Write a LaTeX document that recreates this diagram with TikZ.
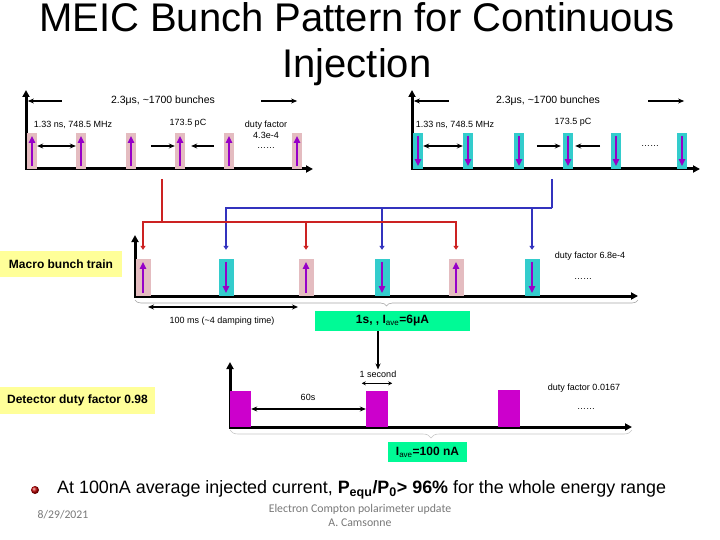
\documentclass[tikz,border=0pt]{standalone}
\usepackage{fontspec}
\setmainfont{Liberation Sans}
\newfontfamily\footfont{Carlito}
\usetikzlibrary{arrows.meta,decorations.pathreplacing,positioning}

\definecolor{bunchpink}{RGB}{228,188,192}
\definecolor{bunchcyan}{RGB}{51,204,204}
\definecolor{spinpurple}{RGB}{150,0,200}
\definecolor{linkred}{RGB}{204,34,34}
\definecolor{linkblue}{RGB}{51,51,190}
\definecolor{labelyellow}{RGB}{255,255,153}
\definecolor{labelgreen}{RGB}{0,250,150}
\definecolor{pulsemag}{RGB}{204,0,204}
\definecolor{footgray}{RGB}{120,120,120}

\tikzset{
  axis/.style={line width=3pt,{Triangle[length=7pt,width=7pt]}-{Triangle[length=7pt,width=7pt]}},
  pinkbunch/.style={fill=bunchpink,inner sep=0pt},
  cyanbunch/.style={fill=bunchcyan,inner sep=0pt},
  pulse/.style={fill=pulsemag,inner sep=0pt,minimum width=21pt,minimum height=36pt},
  spin/.style={draw=spinpurple,line width=2pt,-{Triangle[length=7pt,width=6pt]},shorten <=3pt,shorten >=3pt},
  spanarrow/.style={line width=1.4pt,-{Stealth[length=6pt,width=5pt]}},
  dimarrow/.style={line width=1.4pt,{Stealth[length=6pt,width=5pt]}-{Stealth[length=6pt,width=5pt]}},
  redlink/.style={draw=linkred,line width=1.6pt},
  bluelink/.style={draw=linkblue,line width=1.6pt},
  linktip/.style={-{Triangle[length=4pt,width=5pt]}},
  tinylabel/.style={font=\fontsize{9}{10.5}\selectfont,inner sep=1pt,align=center},
  spanlabel/.style={font=\fontsize{10.5}{12}\selectfont,inner sep=1pt},
  sidebox/.style={fill=labelyellow,font=\bfseries\fontsize{12}{14}\selectfont,inner sep=0pt},
  currentbox/.style={fill=labelgreen,font=\bfseries\fontsize{12}{14}\selectfont,inner sep=0pt},
  bracegray/.style={draw=gray!70,line width=0.6pt,decorate,decoration={brace,mirror,amplitude=6pt}}
}

\begin{document}
\begin{tikzpicture}[x=1pt,y=-1pt,>=stealth]
\useasboundingbox (0,0) rectangle (720,540);

% title
\node[anchor=base,font=\fontsize{40}{44}\selectfont] (title) at (357,32) {MEIC Bunch Pattern for Continuous};
\node[anchor=base,font=\fontsize{40}{44}\selectfont] (title2) at (357,78) {Injection};

% upper left train, spin up
\draw[axis] (26,90) |- (313,169);
\foreach \x [count=\i] in {32,81,131,180,229,297}
{
    \node[pinkbunch,minimum width=10pt,minimum height=36pt] (t\i) at (\x,151) {};
    \draw[spin] (t\i.south) -- (t\i.north);
}
\node[spanlabel] (spanL) at (163,101) {2.3μs, \textasciitilde1700 bunches};
\draw[spanarrow] ([xshift=-48pt]spanL.west) -- ([xshift=-82pt]spanL.west);
\draw[spanarrow] ([xshift=45pt]spanL.east) -- ([xshift=81pt]spanL.east);
\node[tinylabel] (rateL) at (73,125) {1.33 ns, 748.5 MHz};
\draw[dimarrow] ([yshift=5pt]t1.east) -- ([yshift=5pt]t2.west);
\node[tinylabel] (chargeL) at (188,123) {173.5 pC};
\draw[spanarrow] ([shift={(-24pt,5pt)}]t4.west) -- ([yshift=5pt]t4.west);
\draw[spanarrow] ([shift={(29pt,5pt)}]t4.east) -- ([shift={(6pt,5pt)}]t4.east);
\node[tinylabel] (dutyL) at (266,135) {duty factor\\4.3e-4\\……};

% upper right train, spin down
\draw[axis] (412,90) |- (700,169);
\foreach \x [count=\i] in {418,468,519,568,616,682}
{
    \node[cyanbunch,minimum width=10pt,minimum height=36pt] (b\i) at (\x,151) {};
    \draw[spin] (b\i.north) -- (b\i.south);
}
\node[spanlabel] (spanR) at (548,101) {2.3μs, \textasciitilde1700 bunches};
\draw[spanarrow] ([xshift=-46pt]spanR.west) -- ([xshift=-81pt]spanR.west);
\draw[spanarrow] ([xshift=47pt]spanR.east) -- ([xshift=83pt]spanR.east);
\node[tinylabel] (rateR) at (455,125) {1.33 ns, 748.5 MHz};
\draw[dimarrow] ([yshift=5pt]b1.east) -- ([yshift=5pt]b2.west);
\node[tinylabel] (chargeR) at (573,122) {173.5 pC};
\draw[spanarrow] ([shift={(-26pt,5pt)}]b4.west) -- ([shift={(-2pt,5pt)}]b4.west);
\draw[spanarrow] ([shift={(27pt,5pt)}]b4.east) -- ([shift={(2pt,5pt)}]b4.east);
\node[tinylabel] (dotsR) at (650,146) {……};

% macro bunch train
\draw[axis] (135,235) |- (638,296);
\foreach \x/\kind/\from/\to [count=\i] in {143/pink/south/north,226/cyan/north/south,306/pink/south/north,382/cyan/north/south,456/pink/south/north,532/cyan/north/south}
{
    \node[\kind bunch,minimum width=15pt,minimum height=37pt] (m\i) at (\x,277.5) {};
    \draw[spin] (m\i.\from) -- (m\i.\to);
}
\node[sidebox,minimum width=122pt,minimum height=26pt] (macro) at (61,264) {Macro bunch train};
\node[tinylabel] (dutyM) at (590,256) {duty factor 6.8e-4};
\node[tinylabel] (dotsM) at (583,279) {……};

% injection links
\coordinate (redsrc) at (162,179);
\coordinate (redbus) at (162,222);
\coordinate (bluesrc) at (552,179);
\coordinate (bluebus) at (552,208);
\draw[bluelink] (bluesrc) -- (bluebus);
\foreach \m in {m2,m4,m6}
    \draw[bluelink,linktip,shorten >=9pt] (bluebus) -| (\m.north);
\draw[redlink] (redsrc) -- (redbus);
\foreach \m in {m1,m3,m5}
    \draw[redlink,linktip,shorten >=9pt] (redbus) -| (\m.north);

\draw[bracegray] (135,300) -- (638,300);
\coordinate (dampL) at (148,307);
\coordinate (dampR) at (298,307);
\draw[dimarrow] (dampL) -- (dampR);
\node[tinylabel] (damp) at (222,321) {100 ms (\textasciitilde4 damping time)};
\node[currentbox,minimum width=155pt,minimum height=20pt] (fill6) at (392.5,321) {1s, , I\textsubscript{\mdseries ave}=6μA};

% detector cycle
\node[tinylabel] (onesec) at (378,374) {1 second};
\draw[line width=1.5pt,-{Stealth[length=6pt,width=5pt]}] (fill6.south -| onesec.north) -- (onesec.north);
\draw[axis] (230,362) |- (632,427);
\node[pulse] (p1) at (240.5,409) {};
\node[pulse,minimum width=22pt] (p2) at (377,408.5) {};
\node[pulse,minimum width=22pt,minimum height=37pt] (p3) at (509,408) {};
\draw[dimarrow] (p1.east) -- (p2.west |- p1.east);
\node[tinylabel] (sixty) at (308,397) {60s};
\draw[line width=1.2pt,{Stealth[length=4pt,width=4pt]}-{Stealth[length=4pt,width=4pt]}] ([shift={(-4pt,7pt)}]p2.north west) -- ([shift={(4pt,7pt)}]p2.north east);
\node[tinylabel] (dutyD) at (584,388) {duty factor 0.0167};
\node[tinylabel] (dotsD) at (586,409) {……};
\draw[bracegray,draw=gray!45,decoration={brace,mirror,amplitude=8pt}] (230,430) -- (632,430);
\node[currentbox,minimum width=79pt,minimum height=20pt] (fill100) at (427.5,452) {I\textsubscript{\mdseries ave}=100 nA};
\node[sidebox,minimum width=155pt,minimum height=27pt] (detector) at (77.5,400.5) {Detector duty factor 0.98};

% summary line
\shade[ball color=red!75!black] (35,490) circle (4);
\node[anchor=west,font=\fontsize{17.9}{20}\selectfont,inner sep=0pt] (summary) at (57,490)
  {At 100nA average injected current, \textbf{P\textsubscript{equ}/P\textsubscript{0}> 96\%} for the whole energy range};

% footer
\node[font=\footfont\fontsize{11.7}{12}\selectfont,text=footgray] (date) at (63,515) {8/29/2021};
\node[font=\footfont\fontsize{11.8}{14}\selectfont,text=footgray,align=center] (talk) at (360,515) {Electron Compton polarimeter update\\A. Camsonne};

\end{tikzpicture}
\end{document}
